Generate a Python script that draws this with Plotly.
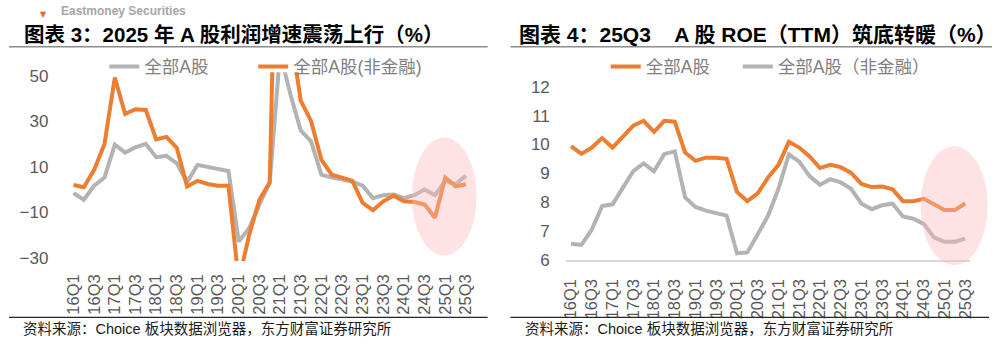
import plotly.graph_objects as go

# ---------------- data ----------------
quarters = ["16Q1","16Q2","16Q3","16Q4","17Q1","17Q2","17Q3","17Q4",
            "18Q1","18Q2","18Q3","18Q4","19Q1","19Q2","19Q3","19Q4",
            "20Q1","20Q2","20Q3","20Q4","21Q1","21Q2","21Q3","21Q4",
            "22Q1","22Q2","22Q3","22Q4","23Q1","23Q2","23Q3","23Q4",
            "24Q1","24Q2","24Q3","24Q4","25Q1","25Q2","25Q3"]
tick_labels = quarters[::2]

# chart 3: profit growth (%)
profit_all = [-1.5, -4.4, 1.8, 5.3, 19.8, 16.3, 18.6, 20.1, 14.3, 14.9, 11.6, 3.3,
              10.9, 9.9, 9.3, 8.2, -22.7, -16.9, -6.5, 3.2, 60.0, 41.9, 26.0, 21.2,
              6.6, 5.3, 4.6, 3.5, 1.8, -3.7, -2.4, -2.1, -3.7, -2.4, 0.1, -2.4,
              3.9, 2.5, 6.2]
profit_nonfin = [2.1, 1.1, 8.7, 20.1, 49.2, 33.2, 35.3, 35.0, 22.1, 23.2, 18.4, 1.4,
                 3.9, 2.5, 1.7, 1.7, -40.0, -20.0, -4.4, 3.2, 200.0, 70.0, 39.1, 30.2,
                 13.2, 6.6, 5.3, 3.9, -5.8, -9.0, -5.1, -2.6, -5.1, -5.4, -6.5, -12.3,
                 5.3, 1.5, 2.4]

# chart 4: ROE TTM (%)
roe_all = [9.94, 9.67, 9.89, 10.22, 9.89, 10.27, 10.65, 10.82, 10.44, 10.82, 10.79, 9.72,
           9.43, 9.54, 9.54, 9.50, 8.35, 8.03, 8.30, 8.85, 9.29, 10.09, 9.89, 9.58,
           9.18, 9.29, 9.21, 9.01, 8.63, 8.52, 8.54, 8.44, 8.03, 8.03, 8.11, 7.92,
           7.72, 7.72, 7.95]
roe_nonfin = [6.55, 6.51, 7.04, 7.86, 7.92, 8.49, 9.07, 9.34, 9.07, 9.67, 9.76, 8.16,
              7.83, 7.70, 7.62, 7.53, 6.22, 6.25, 6.88, 7.53, 8.46, 9.65, 9.40, 8.90,
              8.60, 8.79, 8.68, 8.46, 7.94, 7.75, 7.89, 7.94, 7.50, 7.42, 7.24, 6.77,
              6.62, 6.62, 6.73]

# ---------------- layout helpers ----------------
W, H = 997, 350
def px(x):
    return x / W
def py(y):
    return 1 - y / H

ORANGE = "#ED7D31"
GRAY = "#B3B3B3"
TICK_FONT = dict(family="Liberation Sans, Arial, sans-serif", size=17, color="#595959")
XTICK_FONT = dict(family="Liberation Sans, Arial, sans-serif", size=16.5, color="#595959")
LEG_FONT = dict(family="Liberation Sans, Noto Sans CJK SC, sans-serif", size=17.5, color="#7F7F7F")
CJK = "Liberation Sans, Noto Sans CJK SC, sans-serif"

n = len(quarters)
xr = [-0.5, n - 0.5]

# plot areas (pixels)
L_x0, L_x1, L_y0, L_y1 = 64.8, 470.4, 67.0, 266.5
R_x0, R_x1, R_y0, R_y1 = 565.8, 973.2, 82.3, 265.0
L_range = [-31.3, 51.5]
R_range = [6, 12]

fig = go.Figure()

fig.add_trace(go.Scatter(x=quarters, y=profit_all, mode="lines", name="全部A股",
                         line=dict(color=GRAY, width=4), xaxis="x", yaxis="y",
                         legend="legend", showlegend=True))
fig.add_trace(go.Scatter(x=quarters, y=profit_nonfin, mode="lines", name="全部A股(非金融)",
                         line=dict(color=ORANGE, width=4), xaxis="x", yaxis="y",
                         legend="legend2", showlegend=True))
fig.add_trace(go.Scatter(x=quarters, y=roe_all, mode="lines", name="全部A股",
                         line=dict(color=ORANGE, width=4), xaxis="x2", yaxis="y2",
                         legend="legend3", showlegend=True))
fig.add_trace(go.Scatter(x=quarters, y=roe_nonfin, mode="lines", name="全部A股（非金融）",
                         line=dict(color=GRAY, width=4), xaxis="x2", yaxis="y2",
                         legend="legend4", showlegend=True))

zero_pos = py(L_y1) + (0 - L_range[0]) / (L_range[1] - L_range[0]) * (py(L_y0) - py(L_y1))

fig.update_layout(
    width=W, height=H, margin=dict(l=0, r=0, t=0, b=0),
    paper_bgcolor="white", plot_bgcolor="rgba(0,0,0,0)",
    xaxis=dict(domain=[px(L_x0), px(L_x1)], type="category", range=xr,
               tickmode="array", tickvals=tick_labels, ticktext=tick_labels,
               tickangle=-90, tickfont=XTICK_FONT, showgrid=False, showline=False,
               zeroline=False, ticks="", ticklabelstandoff=9, anchor="y"),
    yaxis=dict(domain=[py(L_y1), py(L_y0)], range=L_range, tick0=-30, dtick=20,
               tickfont=TICK_FONT, showgrid=False, zeroline=False, showline=False,
               ticks="", ticklabelstandoff=19, anchor="x"),
    xaxis3=dict(domain=[px(L_x0), px(L_x1)], type="linear", range=xr, overlaying="x",
                anchor="free", position=zero_pos, tick0=-0.5, dtick=1, ticks="outside",
                ticklen=4, tickwidth=1.5, tickcolor="#D9D9D9", showline=True,
                linecolor="#D9D9D9", linewidth=1.5, showticklabels=False,
                showgrid=False, zeroline=False, layer="below traces"),
    xaxis2=dict(domain=[px(R_x0), px(R_x1)], type="category", range=xr,
                tickmode="array", tickvals=tick_labels, ticktext=tick_labels,
                tickangle=-90, tickfont=XTICK_FONT, showgrid=False, showline=True,
                linecolor="#D9D9D9", linewidth=1.5, zeroline=False, ticks="",
                ticklabelstandoff=11, anchor="y2", layer="below traces"),
    yaxis2=dict(domain=[py(R_y1), py(R_y0)], range=R_range, dtick=1,
                tickfont=TICK_FONT, showgrid=False, zeroline=False, showline=False,
                ticks="", ticklabelstandoff=15, anchor="x2"),
)

def leg(x_sample):
    return dict(x=px(x_sample - 5), y=py(61), xanchor="left", yanchor="middle",
                orientation="h", font=LEG_FONT, bgcolor="rgba(0,0,0,0)",
                borderwidth=0, itemwidth=30)

fig.update_layout(legend=leg(106), legend2=leg(256), legend3=leg(611), legend4=leg(744))

# highlight ellipses
fig.add_shape(type="circle", xref="paper", yref="paper",
              x0=px(410.7), x1=px(476.0), y0=py(260.7), y1=py(136.0),
              fillcolor="rgba(250,185,185,0.40)", line=dict(width=0), layer="above")
fig.add_shape(type="circle", xref="paper", yref="paper",
              x0=px(923.0), x1=px(990.7), y0=py(270.7), y1=py(145.0),
              fillcolor="rgba(250,185,185,0.40)", line=dict(width=0), layer="above")

# title / source rules
for (a, b) in [(5, 487), (510, 995)]:
    fig.add_shape(type="line", xref="paper", yref="paper", x0=px(a), x1=px(b),
                  y0=py(40), y1=py(40), line=dict(color="#8C8C8C", width=1.5))
for (a, b) in [(5, 487), (510, 992)]:
    fig.add_shape(type="line", xref="paper", yref="paper", x0=px(a), x1=px(b),
                  y0=py(326), y1=py(326), line=dict(color="#262626", width=1.3))

# titles
fig.add_annotation(xref="paper", yref="paper", x=px(18), y=py(27), xanchor="left",
                   yanchor="middle", showarrow=False,
                   text="<b>图表 3：2025 年 A 股利润增速震荡上行（%）</b>",
                   font=dict(family=CJK, size=20.5, color="#000000"))
fig.add_annotation(xref="paper", yref="paper", x=px(517), y=py(27), xanchor="left",
                   yanchor="middle", showarrow=False,
                   text="<b>图表 4：25Q3\u00a0\u00a0\u00a0\u00a0A 股 ROE（TTM）筑底转暖（%）</b>",
                   font=dict(family=CJK, size=21, color="#000000"))

# sources
for xs in (17, 523):
    fig.add_annotation(xref="paper", yref="paper", x=px(xs), y=py(338), xanchor="left",
                       yanchor="middle", showarrow=False,
                       text="资料来源：Choice 板块数据浏览器，东方财富证券研究所",
                       font=dict(family=CJK, size=14.5, color="#1A1A1A"))

# watermark at top edge
fig.add_annotation(xref="paper", yref="paper", x=px(55), y=py(12), xanchor="left",
                   yanchor="bottom", showarrow=False, text="<b>Eastmoney Securities</b>",
                   font=dict(family="Liberation Sans, Arial, sans-serif", size=12,
                             color="#A6A6A6"))
fig.add_annotation(xref="paper", yref="paper", x=px(40), y=py(6), xanchor="center",
                   yanchor="middle", showarrow=False, text="▼",
                   font=dict(family="DejaVu Sans", size=8, color="#E8663A"))

fig.write_html("out.html")
